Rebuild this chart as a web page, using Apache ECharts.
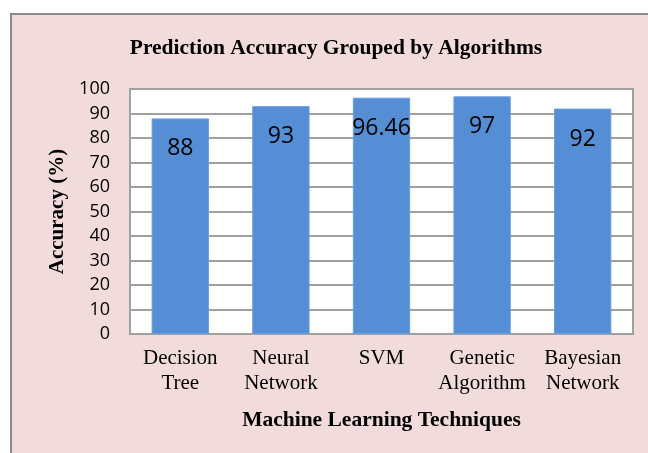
<!DOCTYPE html>
<html>
<head>
<meta charset="utf-8">
<script src="https://cdn.jsdelivr.net/npm/echarts@6/dist/echarts.min.js"></script>
<style>
html,body{margin:0;padding:0;background:#fff;}
#c{width:648px;height:453px;}
</style>
</head>
<body>
<div id="c"></div>
<script>
var categories = ['Decision\nTree', 'Neural\nNetwork', 'SVM', 'Genetic\nAlgorithm', 'Bayesian\nNetwork'];
var accuracy = [88, 93, 96.46, 97, 92];
var yTicks = {min: 0, max: 100, interval: 10};
var titleText = 'Prediction Accuracy Grouped by Algorithms';
var xTitle = 'Machine Learning Techniques';
var yTitle = 'Accuracy (%)';

var chart = echarts.init(document.getElementById('c'), null, {renderer: 'canvas'});
chart.setOption({
  animation: false,
  backgroundColor: '#ffffff',
  graphic: [{
    type: 'rect', z: -10, silent: true,
    shape: {x: 11, y: 14, width: 700, height: 500},
    style: {fill: '#f2dcdb', stroke: '#8a8a8a', lineWidth: 2}
  }],
  title: {
    text: titleText,
    left: 331, top: 32, textAlign: 'center',
    textStyle: {fontFamily: 'Liberation Serif', fontWeight: 'bold', fontSize: 21.5, color: '#000'}
  },
  grid: {
    left: 130, top: 89, right: 15, bottom: 119,
    show: true, backgroundColor: '#ffffff', borderColor: '#a0a0a0', borderWidth: 2
  },
  xAxis: {
    type: 'category',
    data: categories,
    axisLine: {lineStyle: {color: '#a0a0a0', width: 2}},
    axisTick: {show: false},
    axisLabel: {fontFamily: 'Liberation Serif', fontSize: 21, lineHeight: 25, color: '#000', margin: 12, interval: 0},
    name: xTitle, nameLocation: 'middle', nameGap: 75,
    nameTextStyle: {fontFamily: 'Liberation Serif', fontWeight: 'bold', fontSize: 21.5, color: '#000'}
  },
  yAxis: {
    type: 'value',
    min: yTicks.min, max: yTicks.max, interval: yTicks.interval,
    axisLine: {show: true, lineStyle: {color: '#a0a0a0', width: 2}},
    axisTick: {show: false},
    splitLine: {lineStyle: {color: '#a0a0a0', width: 2}},
    axisLabel: {fontFamily: 'Open Sans', fontSize: 18, color: '#000', margin: 20},
    name: yTitle, nameLocation: 'middle', nameRotate: 90, nameGap: 62,
    nameTextStyle: {fontFamily: 'Liberation Serif', fontWeight: 'bold', fontSize: 21, color: '#000'}
  },
  series: [{
    type: 'bar',
    data: accuracy,
    barWidth: '57%',
    itemStyle: {color: '#558ed5', borderColor: '#6b9de0', borderWidth: 1},
    label: {
      show: true, position: 'insideTop', distance: 19,
      fontFamily: 'Open Sans', fontSize: 23, color: '#000'
    }
  }]
});
</script>
</body>
</html>
